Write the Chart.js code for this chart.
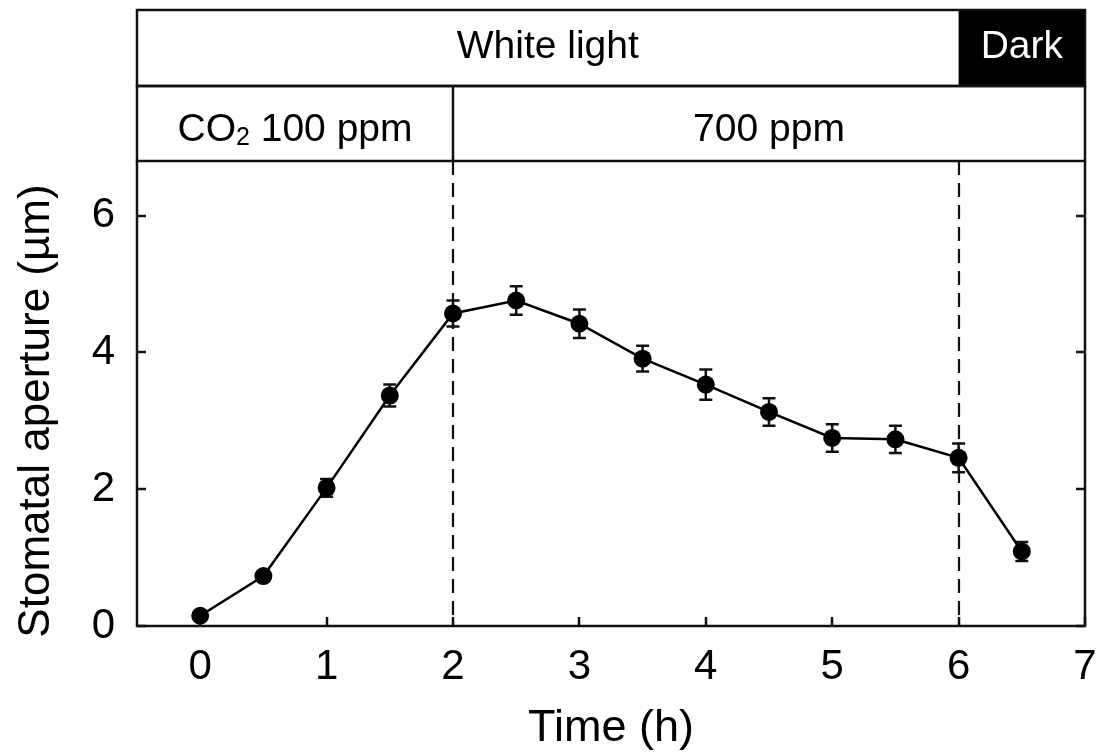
<!DOCTYPE html>
<html>
<head>
<meta charset="utf-8">
<title>Stomatal aperture time course</title>
<script src="https://cdn.jsdelivr.net/npm/chart.js@4.4.1/dist/chart.umd.min.js"></script>
<style>
  html, body { margin: 0; padding: 0; background: #ffffff; }
  #wrap { width: 1105px; height: 753px; }
</style>
</head>
<body>
<div id="wrap"><canvas id="c" width="1105" height="753"></canvas></div>
<script>
// Time points (h), mean stomatal aperture (µm) and error (±)
const timeH = [0, 0.5, 1, 1.5, 2, 2.5, 3, 3.5, 4, 4.5, 5, 5.5, 6, 6.5];
const aperture = [0.15, 0.73, 2.02, 3.37, 4.57, 4.76, 4.42, 3.91, 3.53, 3.13, 2.75, 2.73, 2.46, 1.09];
const apertureErr = [0.05, 0.07, 0.13, 0.16, 0.19, 0.21, 0.21, 0.19, 0.22, 0.20, 0.20, 0.20, 0.21, 0.14];

// Axis ticks
const xTicks = [0, 1, 2, 3, 4, 5, 6, 7];
const yTicks = [0, 2, 4, 6];
const xRange = [-0.5, 7];
const yRange = [0, 6.8];

// Axis titles
const xTitle = 'Time (h)';
const yTitle = 'Stomatal aperture (µm)';

// Treatment bands above the plot
const lightLabels = ['White light', 'Dark'];
const lightBounds = [-0.5, 6, 7];
const co2Labels = ['100 ppm', '700 ppm'];
const co2Bounds = [-0.5, 2, 7];
// Treatment changes marked with dashed lines
const switchTimes = [2, 6];

const FONT = '"Liberation Sans", Arial, Helvetica, sans-serif';
const INK = '#111111';
const BAND_FONT = '39px ' + FONT;
const SUB_FONT = '25px ' + FONT;
const LW = 2.5;

const frameAndBands = {
  id: 'frameAndBands',
  beforeDatasetsDraw(chart) {
    const { ctx, chartArea: a, scales: { x, y } } = chart;
    ctx.save();
    // dashed treatment-change lines
    ctx.strokeStyle = INK;
    ctx.lineWidth = 2.2;
    ctx.setLineDash([14, 8]);
    switchTimes.forEach(t => {
      const px = Math.round(x.getPixelForValue(t));
      ctx.beginPath();
      ctx.moveTo(px, a.top);
      ctx.lineTo(px, a.bottom);
      ctx.stroke();
    });
    ctx.setLineDash([]);

    // inward tick marks
    const tl = 9;
    ctx.lineWidth = LW;
    ctx.beginPath();
    xTicks.forEach(v => {
      const px = Math.round(x.getPixelForValue(v));
      ctx.moveTo(px, a.bottom);
      ctx.lineTo(px, a.bottom - tl);
    });
    yTicks.forEach(v => {
      const py = Math.round(y.getPixelForValue(v));
      ctx.moveTo(a.left, py);
      ctx.lineTo(a.left + tl, py);
      ctx.moveTo(a.right, py);
      ctx.lineTo(a.right - tl, py);
    });
    ctx.stroke();

    // plot frame
    ctx.beginPath();
    ctx.moveTo(a.left, a.top);
    ctx.lineTo(a.left, a.bottom);
    ctx.lineTo(a.right, a.bottom);
    ctx.lineTo(a.right, a.top);
    ctx.stroke();

    // vertical axis title, centred on the labelled part of the axis
    ctx.save();
    ctx.fillStyle = '#000000';
    ctx.font = '44px ' + FONT;
    ctx.textAlign = 'center';
    ctx.textBaseline = 'middle';
    ctx.translate(37, 411);
    ctx.rotate(-Math.PI / 2);
    ctx.fillText(yTitle, 0, 0);
    ctx.restore();

    // treatment bands
    const rowTop = 10, rowMid = 86, rowBot = a.top;
    // light row
    lightLabels.forEach((lab, i) => {
      const x0 = i === 0 ? a.left : x.getPixelForValue(lightBounds[i]);
      const x1 = i === lightLabels.length - 1 ? a.right : x.getPixelForValue(lightBounds[i + 1]);
      const dark = lab === 'Dark';
      if (dark) {
        ctx.fillStyle = '#000000';
        ctx.fillRect(x0, rowTop, x1 - x0, rowMid - rowTop);
      }
      ctx.fillStyle = dark ? '#ffffff' : '#000000';
      ctx.font = BAND_FONT;
      ctx.textAlign = 'center';
      ctx.textBaseline = 'alphabetic';
      ctx.fillText(lab, (x0 + x1) / 2, 58);
    });
    // CO2 row
    co2Labels.forEach((lab, i) => {
      const x0 = i === 0 ? a.left : x.getPixelForValue(co2Bounds[i]);
      const x1 = i === co2Labels.length - 1 ? a.right : x.getPixelForValue(co2Bounds[i + 1]);
      const cx = (x0 + x1) / 2;
      ctx.fillStyle = '#000000';
      ctx.textBaseline = 'alphabetic';
      if (i === 0) {
        ctx.font = BAND_FONT;
        const wCO = ctx.measureText('CO').width;
        const wRest = ctx.measureText(' ' + lab).width;
        ctx.font = SUB_FONT;
        const wSub = ctx.measureText('2').width;
        const sx = cx - (wCO + wSub + wRest) / 2;
        ctx.textAlign = 'left';
        ctx.font = BAND_FONT;
        ctx.fillText('CO', sx, 141);
        ctx.font = SUB_FONT;
        ctx.fillText('2', sx + wCO, 145);
        ctx.font = BAND_FONT;
        ctx.fillText(' ' + lab, sx + wCO + wSub, 141);
      } else {
        ctx.font = BAND_FONT;
        ctx.textAlign = 'center';
        ctx.fillText(lab, cx, 141);
      }
    });
    // band outlines
    ctx.strokeStyle = INK;
    ctx.lineWidth = LW;
    ctx.strokeRect(a.left, rowTop, a.right - a.left, rowMid - rowTop);
    ctx.strokeRect(a.left, rowMid, a.right - a.left, rowBot - rowMid);
    ctx.beginPath();
    for (let i = 1; i < co2Bounds.length - 1; i++) {
      const px = Math.round(x.getPixelForValue(co2Bounds[i]));
      ctx.moveTo(px, rowMid);
      ctx.lineTo(px, rowBot);
    }
    ctx.stroke();

    // error bars
    ctx.lineWidth = LW;
    ctx.beginPath();
    timeH.forEach((t, i) => {
      const px = x.getPixelForValue(t);
      const hi = y.getPixelForValue(aperture[i] + apertureErr[i]);
      const lo = y.getPixelForValue(aperture[i] - apertureErr[i]);
      ctx.moveTo(px, hi); ctx.lineTo(px, lo);
      ctx.moveTo(px - 6.5, hi); ctx.lineTo(px + 6.5, hi);
      ctx.moveTo(px - 6.5, lo); ctx.lineTo(px + 6.5, lo);
    });
    ctx.stroke();
    ctx.restore();
  }
};

new Chart(document.getElementById('c'), {
  type: 'line',
  data: {
    datasets: [{
      data: timeH.map((t, i) => ({ x: t, y: aperture[i] })),
      borderColor: '#000000',
      borderWidth: LW,
      backgroundColor: '#000000',
      pointRadius: 9,
      pointBorderWidth: 0,
      pointBackgroundColor: '#000000',
      tension: 0,
      fill: false
    }]
  },
  options: {
    responsive: false,
    animation: false,
    devicePixelRatio: 1,
    layout: { padding: { top: 161, right: 20, left: 0, bottom: 0 } },
    plugins: { legend: { display: false }, tooltip: { enabled: false } },
    scales: {
      x: {
        type: 'linear',
        min: xRange[0], max: xRange[1],
        afterBuildTicks: s => { s.ticks = xTicks.map(v => ({ value: v })); },
        afterFit: s => { s.height = 127; s.paddingLeft = 0; s.paddingRight = 0; },
        grid: { display: false, drawTicks: false },
        border: { display: false },
        ticks: { color: '#000000', font: { family: FONT, size: 42 }, padding: 16, maxRotation: 0, autoSkip: false },
        title: { display: true, text: xTitle, color: '#000000', font: { family: FONT, size: 45, lineHeight: 1 }, padding: { top: 0, bottom: 2 } }
      },
      y: {
        type: 'linear',
        min: yRange[0], max: yRange[1],
        afterBuildTicks: s => { s.ticks = yTicks.map(v => ({ value: v })); },
        afterFit: s => { s.width = 137; s.paddingTop = 0; s.paddingBottom = 0; },
        grid: { display: false, drawTicks: false },
        border: { display: false },
        ticks: { color: '#000000', font: { family: FONT, size: 42 }, padding: 22, autoSkip: false },
        title: { display: false }
      }
    }
  },
  plugins: [frameAndBands]
});
</script>
</body>
</html>
